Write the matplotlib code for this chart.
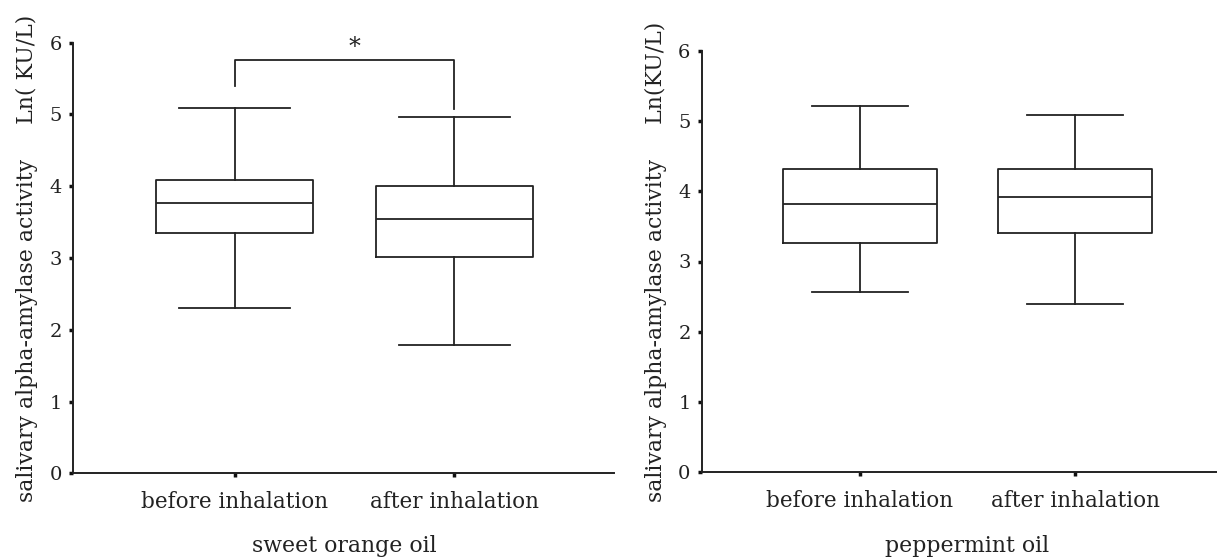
import matplotlib
matplotlib.use("Agg")
import matplotlib.pyplot as plt

# ---- data ----
categories = ["before inhalation", "after inhalation"]

orange_whislo = [2.30, 1.79]
orange_q1 = [3.35, 3.02]
orange_med = [3.77, 3.55]
orange_q3 = [4.09, 4.01]
orange_whishi = [5.09, 4.97]

pepper_whislo = [2.56, 2.40]
pepper_q1 = [3.26, 3.40]
pepper_med = [3.82, 3.92]
pepper_q3 = [4.31, 4.31]
pepper_whishi = [5.22, 5.08]

yticks = [0, 1, 2, 3, 4, 5, 6]
bracket_levels = [5.40, 5.76, 5.07]   # left leg bottom, top, right leg bottom
star_level = 5.94

W, H = 1217, 557
fig = plt.figure(figsize=(W / 100, H / 100), dpi=100)
plt.rcParams['font.family'] = ['DejaVu Serif']

FS_TICK = 14
FS_XT = 15.5
FS_LAB = 15.8


def make_stats(lo, q1, med, q3, hi):
    out = []
    for i in range(len(lo)):
        out.append(dict(whislo=lo[i], q1=q1[i], med=med[i], q3=q3[i],
                        whishi=hi[i], fliers=[]))
    return out


def setup(ax, stats, capw, xlim, ylabel, xlabel, xlab_y, ylab_x):
    ax.bxp(stats, positions=[0, 1], widths=0.716, capwidths=capw,
           showfliers=False, patch_artist=False,
           boxprops=dict(color='#222222', linewidth=1.3),
           whiskerprops=dict(color='#222222', linewidth=1.3),
           capprops=dict(color='#222222', linewidth=1.3),
           medianprops=dict(color='#222222', linewidth=1.3))
    ax.set_xlim(*xlim)
    ax.set_ylim(0, 6)
    ax.set_yticks(yticks)
    ax.set_yticklabels([str(t) for t in yticks], fontsize=FS_TICK)
    ax.set_xticks([0, 1])
    ax.set_xticklabels(categories, fontsize=FS_XT)
    for s in ['top', 'right']:
        ax.spines[s].set_visible(False)
    for s in ['left', 'bottom']:
        ax.spines[s].set_linewidth(1.4)
        ax.spines[s].set_color('#222222')
    ax.tick_params(axis='both', direction='out', length=3, width=2.5,
                   color='#111111', labelcolor='#222222')
    ax.tick_params(axis='y', pad=5)
    ax.tick_params(axis='x', pad=10)
    ax.set_ylabel(ylabel, fontsize=FS_LAB, color='#222222')
    ax.yaxis.set_label_coords(ylab_x, 0.5)
    ax.text(0.5, xlab_y, xlabel, transform=ax.get_xaxis_transform(),
            ha='center', va='center', fontsize=FS_LAB, color='#222222')
    ax.patch.set_alpha(0)


# left panel: sweet orange oil
axL = fig.add_axes([73.3 / W, 1 - 473.3 / H, (614 - 73.3) / W, (473.3 - 42.7) / H])
setup(axL, make_stats(orange_whislo, orange_q1, orange_med, orange_q3, orange_whishi),
      0.506, (-0.737, 1.728),
      "salivary alpha-amylase activity     Ln( KU/L)", "sweet orange oil",
      -0.1688, -0.0653)
axL.plot([0, 0, 1, 1], bracket_levels[:1] + [bracket_levels[1]] * 2 + bracket_levels[2:],
         color='#222222', linewidth=1.3, clip_on=False)
axL.text(0.545, star_level, "*", ha='center', va='center', fontsize=17, color='#222222')

# right panel: peppermint oil
axR = fig.add_axes([701.7 / W, 1 - 472.3 / H, (W - 701.7) / W, (472.3 - 50.7) / H])
setup(axR, make_stats(pepper_whislo, pepper_q1, pepper_med, pepper_q3, pepper_whishi),
      0.45, (-0.736, 1.66),
      "salivary alpha-amylase activity     Ln(KU/L)", "peppermint oil",
      -0.1748, -0.0673)

fig.savefig("out.png", dpi=100)
